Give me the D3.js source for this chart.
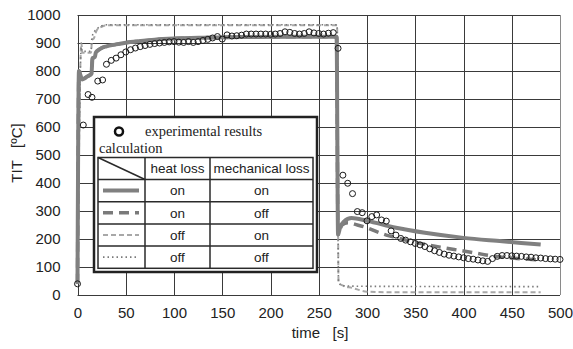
<!DOCTYPE html>
<html>
<head>
<meta charset="utf-8">
<script src="https://cdn.jsdelivr.net/npm/d3@7/dist/d3.min.js"></script>
<style>
  body { margin: 0; background: #fff; }
  svg { display: block; }
</style>
</head>
<body>
<div id="chart"></div>
<script>
// ── data ───────────────────────────────────────────────────────────────────
const xTicks = [0, 50, 100, 150, 200, 250, 300, 350, 400, 450, 500];
const yTicks = [0, 100, 200, 300, 400, 500, 600, 700, 800, 900, 1000];

const expTime = [0, 6, 11, 15, 21, 26, 30, 35, 40, 45, 50, 55, 60, 65, 70, 75, 80, 85, 90, 95,
  100, 105, 110, 115, 120, 125, 130, 135, 140, 145, 150, 155, 160, 165, 170, 175, 180, 185, 190, 195,
  200, 205, 210, 215, 220, 225, 230, 235, 240, 245, 250, 255, 260, 265, 270,
  275, 280, 285, 290, 295, 300, 305, 310, 315, 320, 325, 330, 335, 340, 345, 350, 355, 360, 365, 370,
  375, 380, 385, 390, 395, 400, 405, 410, 415, 420, 425, 430, 435, 440, 445, 450, 455, 460, 465, 470,
  475, 480, 485, 490, 495, 500];
const expTemp = [40, 607, 716, 706, 764, 768, 824, 838, 846, 858, 868, 876, 882, 887, 891, 895, 898, 900, 902, 904,
  905, 903, 902, 905, 902, 905, 909, 913, 918, 923, 914, 929, 925, 926, 928, 932, 932, 932, 932, 932,
  931, 932, 934, 940, 938, 934, 932, 934, 940, 936, 934, 932, 935, 937, 881,
  428, 399, 362, 298, 294, 265, 280, 286, 268, 264, 229, 214, 202, 196, 190, 184, 179, 173, 165, 158,
  152, 146, 142, 139, 136, 133, 130, 128, 125, 122, 120, 130, 138, 141, 141, 140, 139, 138, 136, 135,
  133, 132, 130, 129, 128, 127];

// heat loss on / mechanical loss on
const onOnTime = [0, 1.5, 3, 5, 10, 14.5, 15.5, 18, 19, 24, 30, 40, 50, 65, 80, 100, 130, 170, 220, 268.5,
  270, 272, 276, 284, 300, 330, 360, 400, 440, 480];
const onOnTemp = [40, 800, 785, 770, 780, 790, 845, 850, 866, 880, 888, 895, 901, 907, 912, 916, 919, 921, 922, 922,
  215, 240, 262, 275, 265, 240, 222, 204, 192, 180];

// heat loss on / mechanical loss off
const onOffTime = [0, 1.5, 3, 5, 10, 14.5, 15.5, 18, 19, 24, 30, 40, 50, 65, 80, 100, 130, 170, 220, 268.5,
  270, 274, 280, 290, 300, 310, 320, 330, 350, 376, 400, 420, 430, 450, 480];
const onOffTemp = [40, 800, 785, 770, 780, 790, 845, 850, 866, 880, 888, 895, 901, 907, 912, 916, 919, 921, 922, 922,
  215, 250, 258, 250, 240, 226, 214, 205, 188, 171, 157, 145, 139, 132, 125];

// heat loss off / mechanical loss on
const offOnTime = [0, 4, 5, 14, 15, 17, 20, 25, 31, 100, 200, 269, 270.5, 274, 285, 300, 320, 480];
const offOnTemp = [40, 900, 865, 865, 910, 917, 946, 958, 963, 963, 963, 963, 45, 35, 25, 12, 10, 10];

// heat loss off / mechanical loss off
const offOffTime = [0, 4, 5, 14, 15, 20, 30, 100, 200, 269, 270.5, 275, 300, 480];
const offOffTemp = [40, 885, 870, 870, 922, 950, 965, 965, 965, 965, 45, 33, 31, 30];

const legendHeat = ['on', 'on', 'off', 'off'];
const legendMech = ['on', 'off', 'on', 'off'];

// ── layout ─────────────────────────────────────────────────────────────────
const W = 573, H = 349;
const x = d3.scaleLinear().domain([0, 500]).range([77.5, 560]);
const y = d3.scaleLinear().domain([0, 1000]).range([295, 15]);

const STYLE = [
  { stroke: '#808080', width: 4,   dash: null },      // on/on
  { stroke: '#7a7a7a', width: 3.5, dash: '10,6' },    // on/off
  { stroke: '#a8a8a8', width: 2,   dash: '5,3' },     // off/on
  { stroke: '#7a7a7a', width: 1.6, dash: '1.5,3' },   // off/off
];

const svg = d3.select('#chart').append('svg').attr('width', W).attr('height', H);

// grid
svg.append('g').selectAll('line').data(xTicks).join('line')
  .attr('x1', d => Math.round(x(d)) + 0.5).attr('x2', d => Math.round(x(d)) + 0.5)
  .attr('y1', y(1000)).attr('y2', y(0))
  .attr('stroke', d => d === 500 ? '#8a8a8a' : '#3a3a3a').attr('stroke-width', 1);
svg.append('g').selectAll('line').data(yTicks).join('line')
  .attr('x1', x(0)).attr('x2', x(500))
  .attr('y1', d => Math.round(y(d)) + 0.5).attr('y2', d => Math.round(y(d)) + 0.5)
  .attr('stroke', '#3a3a3a').attr('stroke-width', 1);

// axes labels
const sans = '"Liberation Sans", Arial, sans-serif';
const xAxis = d3.axisBottom(x).tickValues(xTicks).tickFormat(d3.format('d')).tickSize(0).tickPadding(12);
svg.append('g').attr('transform', `translate(0,${y(0)})`).call(xAxis)
  .call(g => g.select('.domain').remove())
  .call(g => g.selectAll('text').attr('font-family', sans).attr('font-size', '15px').attr('fill', '#222'));

const yAxis = d3.axisLeft(y).tickValues(yTicks).tickFormat(d3.format('d')).tickSize(0).tickPadding(17);
svg.append('g').attr('transform', `translate(${x(0)},0)`).call(yAxis)
  .call(g => g.select('.domain').remove())
  .call(g => g.selectAll('text').attr('font-family', sans).attr('font-size', '15px').attr('fill', '#222'));

svg.append('text')
  .attr('x', 320).attr('y', 338).attr('text-anchor', 'middle')
  .attr('font-family', sans).attr('font-size', '15px').attr('fill', '#222')
  .attr('xml:space', 'preserve')
  .text('time   [s]');

svg.append('text')
  .attr('transform', 'translate(22,153) rotate(-90)').attr('text-anchor', 'middle')
  .attr('font-family', sans).attr('font-size', '15px').attr('fill', '#222')
  .attr('xml:space', 'preserve')
  .text('TIT   [ºC]');

// curves
const line = d3.line().x(d => x(d[0])).y(d => y(d[1])).curve(d3.curveMonotoneX);
const series = [
  d3.zip(onOnTime, onOnTemp),
  d3.zip(onOffTime, onOffTemp),
  d3.zip(offOnTime, offOnTemp),
  d3.zip(offOffTime, offOffTemp),
];
const drawOrder = [2, 3, 1, 0];
for (const i of drawOrder) {
  const s = STYLE[i];
  svg.append('path').datum(series[i])
    .attr('d', line)
    .attr('fill', 'none')
    .attr('stroke', s.stroke)
    .attr('stroke-width', s.width)
    .attr('stroke-dasharray', s.dash);
}

// experiment markers
svg.append('g').selectAll('circle').data(d3.zip(expTime, expTemp)).join('circle')
  .attr('cx', d => x(d[0])).attr('cy', d => y(d[1])).attr('r', 3)
  .attr('fill', 'none').attr('stroke', '#1a1a1a').attr('stroke-width', 1);

// ── legend ─────────────────────────────────────────────────────────────────
const lg = svg.append('g');
lg.append('rect').attr('x', 94).attr('y', 117).attr('width', 223).attr('height', 155)
  .attr('fill', '#fff').attr('stroke', '#222').attr('stroke-width', 2.5);
lg.append('circle').attr('cx', 119).attr('cy', 131.5).attr('r', 4)
  .attr('fill', '#fff').attr('stroke', '#111').attr('stroke-width', 2.5);
const serif = '"Liberation Serif", "Times New Roman", serif';
lg.append('text').attr('x', 145).attr('y', 136)
  .attr('font-family', serif).attr('font-size', '14.5px').attr('fill', '#222')
  .text('experimental results');
lg.append('text').attr('x', 99).attr('y', 153)
  .attr('font-family', serif).attr('font-size', '14.5px').attr('fill', '#222')
  .text('calculation');

const colX = [98, 145, 210, 313];
const rowY = [157.5, 179.5, 201.7, 224, 246, 268.3];
const tbl = lg.append('g').attr('stroke', '#2a2a2a').attr('stroke-width', 1.5);
tbl.append('rect').attr('x', colX[0]).attr('y', rowY[0])
  .attr('width', colX[3] - colX[0]).attr('height', rowY[5] - rowY[0]).attr('fill', 'none');
colX.slice(1, 3).forEach(cx => tbl.append('line').attr('x1', cx).attr('x2', cx).attr('y1', rowY[0]).attr('y2', rowY[5]));
rowY.slice(1, 5).forEach(ry => tbl.append('line').attr('x1', colX[0]).attr('x2', colX[3]).attr('y1', ry).attr('y2', ry));
tbl.append('line').attr('x1', colX[0]).attr('y1', rowY[0]).attr('x2', colX[1]).attr('y2', rowY[1]);

const cell = (cx, cy, t) => lg.append('text').attr('x', cx).attr('y', cy + 4.8)
  .attr('text-anchor', 'middle').attr('font-family', sans).attr('font-size', '13.5px').attr('fill', '#222').text(t);
cell((colX[1] + colX[2]) / 2, (rowY[0] + rowY[1]) / 2, 'heat loss');
cell((colX[2] + colX[3]) / 2, (rowY[0] + rowY[1]) / 2, 'mechanical loss');

legendHeat.forEach((h, i) => {
  const cy = (rowY[i + 1] + rowY[i + 2]) / 2;
  cell((colX[1] + colX[2]) / 2, cy, h);
  cell((colX[2] + colX[3]) / 2, cy, legendMech[i]);
  const s = STYLE[i];
  lg.append('line').attr('x1', 103).attr('x2', 139).attr('y1', cy).attr('y2', cy)
    .attr('stroke', s.stroke).attr('stroke-width', s.width).attr('stroke-dasharray', s.dash);
});
</script>
</body>
</html>
